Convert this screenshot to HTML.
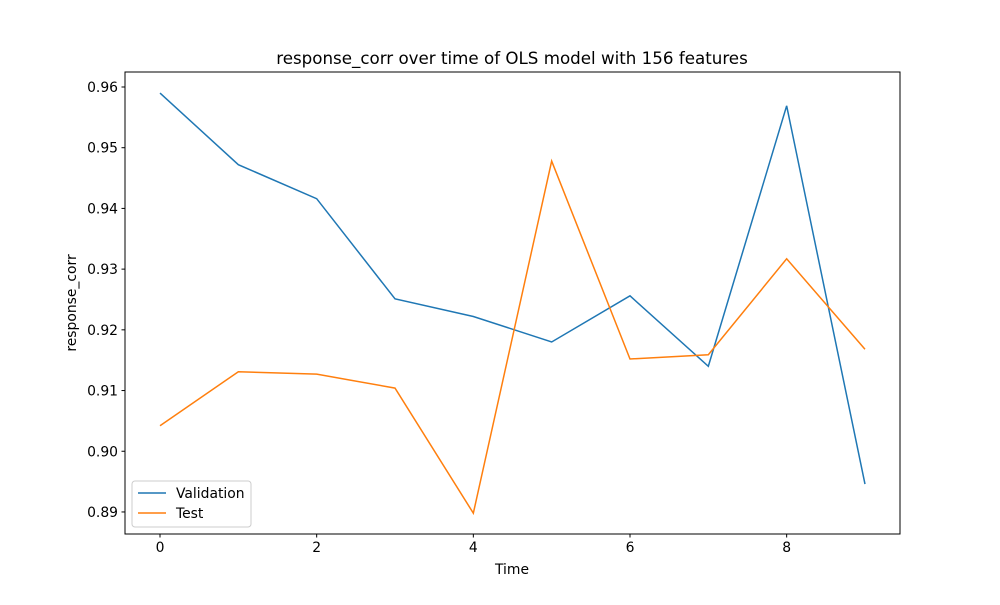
<!DOCTYPE html>
<html><head><meta charset="utf-8"><style>body{margin:0;background:#fff}svg{font-family:"DejaVu Sans","Liberation Sans",sans-serif}</style></head>
<body>
<svg id="c" width="1000" height="600" xmlns="http://www.w3.org/2000/svg"></svg>
<script>
const times=[0,1,2,3,4,5,6,7,8,9];
const validation=[0.959,0.9472,0.9416,0.9251,0.9222,0.918,0.9256,0.914,0.9569,0.8946];
const test=[0.9042,0.9131,0.9127,0.9104,0.8898,0.9478,0.9152,0.9159,0.9317,0.9168];
const xTicks=[0,2,4,6,8];
const yTicks=[0.89,0.90,0.91,0.92,0.93,0.94,0.95,0.96];
const L=125,R=900,T=72,B=534;
const xmin=-0.447,xmax=9.447,ymin=0.88637,ymax=0.96247;
const sx=v=>L+(v-xmin)/(xmax-xmin)*(R-L);
const sy=v=>B-(v-ymin)/(ymax-ymin)*(B-T);
const svg=document.getElementById('c');
const NS='http://www.w3.org/2000/svg';
function mk(tag,attrs,parent){const e=document.createElementNS(NS,tag);for(const k in attrs)e.setAttribute(k,attrs[k]);(parent||svg).appendChild(e);return e;}
const frame=mk('rect',{x:L,y:T,width:R-L,height:B-T,fill:'none',stroke:'#000','stroke-width':1});


xTicks.forEach(t=>{const x=sx(t);
 const l=mk('line',{x1:x,x2:x,y1:B,y2:B+3.5,stroke:'#000'});
 
 
 const tx=mk('text',{x:x,y:B+18,'font-size':13.9,'text-anchor':'middle'});tx.textContent=t;
 
 
});
yTicks.forEach(t=>{const y=sy(t);
 const l=mk('line',{x1:L-3.5,x2:L,y1:y,y2:y,stroke:'#000'});
 
 
 const tx=mk('text',{x:L-7,y:y+5,'font-size':13.9,'text-anchor':'end'});tx.textContent=t.toFixed(2);
 
 
});
function line(vals,color,name){const p=mk('polyline',{points:vals.map((v,i)=>sx(times[i])+','+sy(v)).join(' '),fill:'none',stroke:color,'stroke-width':1.5});
 
 }
line(validation,'#1f77b4','validation-line');
line(test,'#ff7f0e','test-line');
const title=mk('text',{x:512,y:64,'font-size':16.7,'text-anchor':'middle'});title.textContent='response_corr over time of OLS model with 156 features';


const xl=mk('text',{x:512,y:574,'font-size':13.9,'text-anchor':'middle'});xl.textContent='Time';


const yl=mk('text',{x:0,y:0,'font-size':13.9,'text-anchor':'middle',transform:'translate(76,303) rotate(-90)'});yl.textContent='response_corr';


const lg=mk('rect',{x:132,y:481,width:119,height:46,rx:3,fill:'#fff',stroke:'#ccc'});


[['Validation','#1f77b4',493],['Test','#ff7f0e',513]].forEach(([n,c,y])=>{
 const l=mk('line',{x1:138,x2:166,y1:y,y2:y,stroke:c,'stroke-width':1.5});
 
 
 const t=mk('text',{x:176,y:y+5,'font-size':13.9});t.textContent=n;
 
 
});
</script>
</body></html>
